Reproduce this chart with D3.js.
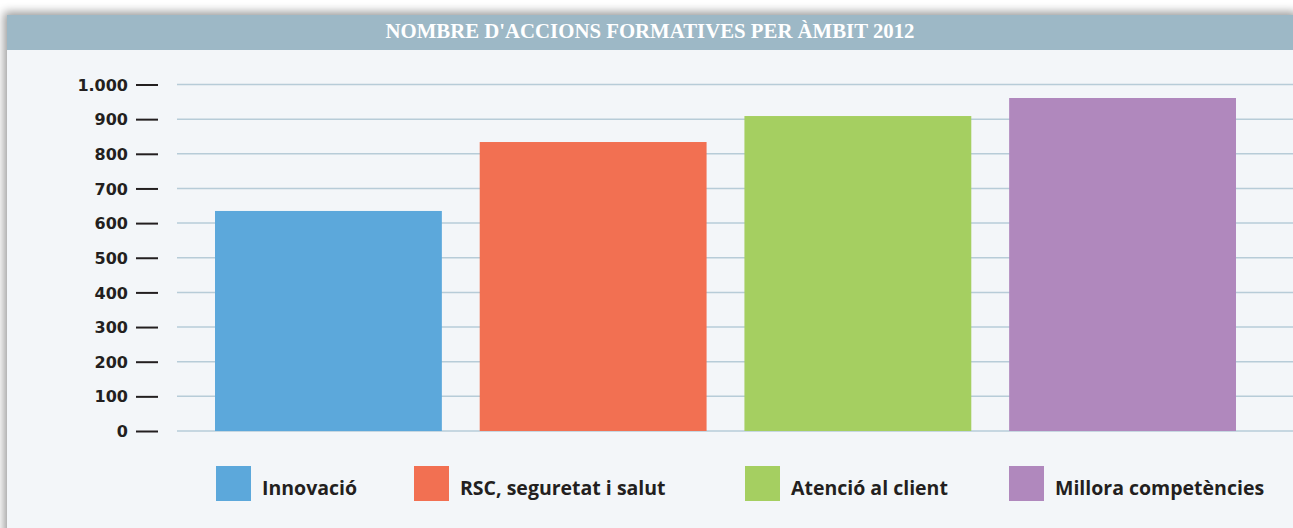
<!DOCTYPE html>
<html><head><meta charset="utf-8">
<script src="https://cdn.jsdelivr.net/npm/d3@7"></script>
<style>html,body{margin:0;padding:0;background:#fff;}svg{display:block;}</style>
</head><body>
<script>
const categories = ["Innovació", "RSC, seguretat i salut", "Atenció al client", "Millora competències"];
const values = [635, 834, 909, 961];
const colors = ["#5ca8db", "#f27052", "#a5cf61", "#b088bd"];
const tickValues = [0,100,200,300,400,500,600,700,800,900,1000];
const tickLabels = ["0","100","200","300","400","500","600","700","800","900","1.000"];
const title = "NOMBRE D'ACCIONS FORMATIVES PER ÀMBIT 2012";

const W = 1293, H = 528;
const svg = d3.select("body").append("svg").attr("width", W).attr("height", H);
const defs = svg.append("defs");
const f = defs.append("filter").attr("id","sh").attr("x","-5%").attr("y","-10%").attr("width","110%").attr("height","120%");
f.append("feGaussianBlur").attr("in","SourceAlpha").attr("stdDeviation",5).attr("result","b");
f.append("feOffset").attr("in","b").attr("dx",-3).attr("dy",-3).attr("result","o");
f.append("feComponentTransfer").attr("in","o").attr("result","o2").append("feFuncA").attr("type","linear").attr("slope",0.4);
const m = f.append("feMerge"); m.append("feMergeNode").attr("in","o2"); m.append("feMergeNode").attr("in","SourceGraphic");

svg.append("rect").attr("x",7).attr("y",15).attr("width",W).attr("height",H).attr("fill","#f3f6f9").attr("filter","url(#sh)");
svg.append("rect").attr("x",7).attr("y",15).attr("width",W).attr("height",35).attr("fill","#9db8c6");
svg.append("text").attr("x",650).attr("y",38).attr("text-anchor","middle")
  .attr("font-family","Liberation Serif, serif").attr("font-weight","bold").attr("font-size",20.8)
  .attr("fill","#fff").text(title);

const y = d3.scaleLinear().domain([0,1000]).range([431, 84.5]);
const x = d3.scaleBand().domain(categories).range([215,1236]).paddingInner(0.143).paddingOuter(0);

// gridlines
svg.append("g").selectAll("line").data(tickValues).join("line")
  .attr("x1",177).attr("x2",W).attr("y1",d=>y(d)).attr("y2",d=>y(d))
  .attr("stroke","#b7ccd8").attr("stroke-width",1.5);

// axis
const axis = d3.axisLeft(y).tickValues(tickValues).tickFormat((d,i)=>tickLabels[i]).tickSize(22).tickPadding(8);
const ag = svg.append("g").attr("transform","translate(158,0)").call(axis);
ag.select(".domain").remove();
ag.selectAll(".tick line").attr("stroke","#231f20").attr("stroke-width",2);
ag.selectAll(".tick text").attr("fill","#231f20").attr("font-family","DejaVu Sans, sans-serif").attr("font-weight","bold").attr("font-size",16).attr("dy","0.35em");

// bars
svg.append("g").selectAll("rect").data(values).join("rect")
  .attr("x",(d,i)=>x(categories[i])).attr("width",x.bandwidth())
  .attr("y",d=>y(d)).attr("height",d=>y(0)-y(d))
  .attr("fill",(d,i)=>colors[i]);

// legend
const legX = [216, 414, 745, 1009];
const lg = svg.append("g").selectAll("g").data(categories).join("g")
  .attr("transform",(d,i)=>`translate(${legX[i]},466)`);
lg.append("rect").attr("width",35).attr("height",35).attr("fill",(d,i)=>colors[i]);
lg.append("text").attr("x",46).attr("y",29).attr("fill","#231f20")
  .attr("font-family","Open Sans, sans-serif").attr("font-weight","700").attr("font-size",19.5)
  .text(d=>d);
</script>
</body></html>
